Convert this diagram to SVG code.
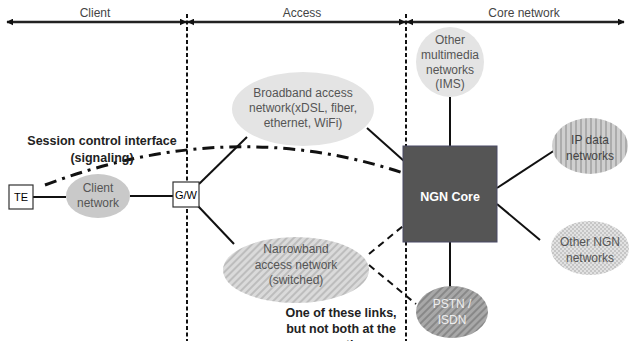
<svg xmlns="http://www.w3.org/2000/svg" width="631" height="341" viewBox="0 0 631 341">
<defs>
<marker id="ah" viewBox="0 0 10 10" refX="9" refY="5" markerWidth="7" markerHeight="7" orient="auto-start-reverse" markerUnits="userSpaceOnUse">
<path d="M0,0 L10,5 L0,10 z" fill="#111"/>
</marker>
<pattern id="diag" width="5" height="5" patternUnits="userSpaceOnUse" patternTransform="rotate(45)">
<rect width="5" height="5" fill="#dadada"/><rect width="2" height="5" fill="#bdbdbd"/>
</pattern>
<pattern id="diagd" width="5" height="5" patternUnits="userSpaceOnUse" patternTransform="rotate(45)">
<rect width="5" height="5" fill="#a8a8a8"/><rect width="2" height="5" fill="#888"/>
</pattern>
<pattern id="vert" width="5" height="5" patternUnits="userSpaceOnUse">
<rect width="5" height="5" fill="#cfcfcf"/><rect width="2" height="5" fill="#acacac"/>
</pattern>
<pattern id="check" width="4" height="4" patternUnits="userSpaceOnUse">
<rect width="4" height="4" fill="#e2e2e2"/><rect width="2" height="2" fill="#c6c6c6"/><rect x="2" y="2" width="2" height="2" fill="#c6c6c6"/>
</pattern>
</defs>
<style>
text{font-family:"Liberation Sans",Arial,sans-serif;font-size:12px;text-anchor:middle}
.lbl{fill:#444}
.nt{fill:#555}
.bold{font-weight:bold;fill:#222;font-size:12.5px}
.ln{stroke:#111;stroke-width:2;fill:none}
.dash{stroke:#111;stroke-width:2;fill:none;stroke-dasharray:7 5}
.div{stroke:#111;stroke-width:2;stroke-dasharray:4 2.5;fill:none}
.box{fill:#fff;stroke:#333;stroke-width:1.2}
</style>
<rect width="631" height="341" fill="#fff"/>

<g id="scale">
<line x1="7" y1="22" x2="186" y2="22" stroke="#222" stroke-width="2.5" marker-start="url(#ah)" marker-end="url(#ah)"/>
<line x1="188" y1="22" x2="405" y2="22" stroke="#222" stroke-width="2.5" marker-start="url(#ah)" marker-end="url(#ah)"/>
<line x1="407" y1="22" x2="624" y2="22" stroke="#222" stroke-width="2.5" marker-start="url(#ah)" marker-end="url(#ah)"/>
<text class="lbl" x="95" y="17">Client</text>
<text class="lbl" x="302" y="17">Access</text>
<text class="lbl" x="524" y="17">Core network</text>
</g>

<g id="dividers">
<line class="div" x1="187" y1="14" x2="187" y2="341"/>
<line class="div" x1="406" y1="14" x2="406" y2="341"/>
</g>

<g id="connectors">
<line class="ln" x1="33" y1="197" x2="66" y2="197"/>
<line class="ln" x1="130" y1="196" x2="173" y2="196"/>
<line class="ln" x1="199" y1="184" x2="247" y2="137"/>
<line class="ln" x1="198" y1="206" x2="234" y2="244"/>
<line class="ln" x1="367" y1="128" x2="404" y2="161"/>
<line class="ln" x1="450" y1="97" x2="450" y2="146"/>
<line class="ln" x1="497" y1="188" x2="555" y2="150"/>
<line class="ln" x1="497" y1="204" x2="540" y2="240"/>
<line class="ln" x1="450" y1="242" x2="450" y2="288"/>
<line class="dash" x1="369" y1="254" x2="403" y2="226"/>
<line class="dash" x1="369" y1="265" x2="416" y2="304"/>
<path d="M45,185 Q230,115 403,173" stroke="#111" stroke-width="3" fill="none" stroke-dasharray="12 6 3 6"/>
</g>

<g id="te">
<rect class="box" x="9" y="185" width="24" height="24"/>
<text x="21" y="201" style="font-size:11px">TE</text>
</g>

<g id="client-network">
<ellipse cx="98" cy="196" rx="32" ry="22" fill="#c9c9c9"/>
<text class="nt" x="98" y="192">Client</text>
<text class="nt" x="98" y="207">network</text>
</g>

<g id="gw">
<rect class="box" x="173" y="182" width="26" height="25"/>
<text x="186" y="199" style="font-size:11px">G/W</text>
</g>

<g id="broadband">
<ellipse cx="303" cy="109" rx="71" ry="37" fill="#e4e4e4"/>
<text class="nt" x="303" y="97">Broadband access</text>
<text class="nt" x="303" y="112">network(xDSL, fiber,</text>
<text class="nt" x="303" y="127">ethernet, WiFi)</text>
</g>

<g id="narrowband">
<ellipse cx="296" cy="270" rx="73" ry="33" fill="url(#diag)"/>
<text class="nt" x="296" y="253">Narrowband</text>
<text class="nt" x="296" y="269">access network</text>
<text class="nt" x="296" y="284">(switched)</text>
</g>

<g id="ims">
<ellipse cx="450" cy="62" rx="34" ry="35" fill="#e4e4e4"/>
<text class="nt" x="450" y="44">Other</text>
<text class="nt" x="450" y="59">multimedia</text>
<text class="nt" x="450" y="74">networks</text>
<text class="nt" x="450" y="88">(IMS)</text>
</g>

<g id="ngn-core">
<rect x="403" y="146" width="94" height="96" fill="#555" stroke="#4a4a66" stroke-width="1"/>
<text x="450" y="201" style="fill:#fff;font-weight:bold;font-size:12.5px">NGN Core</text>
</g>

<g id="ip-data">
<ellipse cx="590" cy="146" rx="38" ry="28" fill="url(#vert)"/>
<text class="nt" x="590" y="144" style="fill:#444">IP data</text>
<text class="nt" x="590" y="160" style="fill:#444">networks</text>
</g>

<g id="other-ngn">
<ellipse cx="590" cy="248" rx="39" ry="27" fill="url(#check)"/>
<text class="nt" x="590" y="246">Other NGN</text>
<text class="nt" x="590" y="262">networks</text>
</g>

<g id="pstn">
<ellipse cx="452" cy="312" rx="36" ry="26" fill="url(#diagd)"/>
<text x="452" y="308" style="fill:#eee">PSTN /</text>
<text x="452" y="324" style="fill:#eee">ISDN</text>
</g>

<g id="annotations">
<text class="bold" x="102" y="145">Session control interface</text>
<text class="bold" x="102" y="162">(signaling)</text>
<text class="bold" x="341" y="317">One of these links,</text>
<text class="bold" x="341" y="333">but not both at the</text>
<text class="bold" x="341" y="349">same time</text>
</g>
</svg>
